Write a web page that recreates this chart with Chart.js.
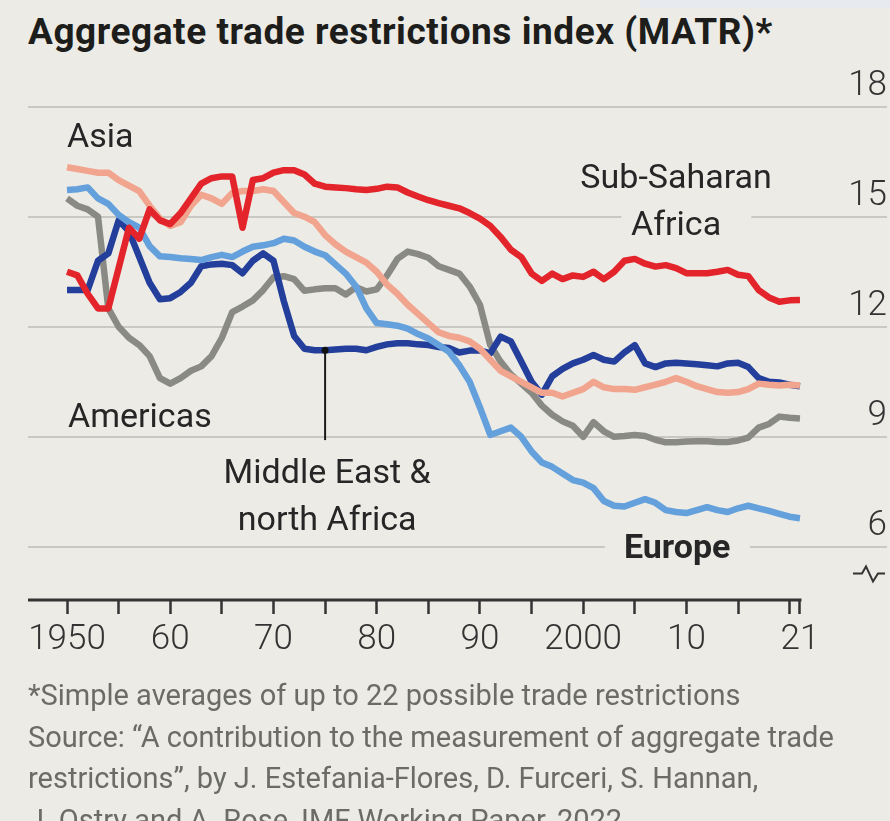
<!DOCTYPE html>
<html>
<head>
<meta charset="utf-8">
<script src="https://cdn.jsdelivr.net/npm/chart.js@4.4.1/dist/chart.umd.min.js"></script>
<style>
  html, body { margin: 0; padding: 0; }
  body { width: 890px; height: 821px; overflow: hidden; background: #ecebe5; position: relative; font-family: Roboto, sans-serif; }
  #strip { position: absolute; left: 640px; top: 0; width: 250px; height: 8px; background: #e7ebef; }
  h1 { position: absolute; left: 28px; top: 13px; margin: 0; font: 700 37px/37px Roboto, sans-serif; color: #1d1d1b; letter-spacing: 0.55px; white-space: nowrap; }
  #wrap { position: absolute; left: 0; top: 50px; width: 890px; height: 630px; }
  .notes { position: absolute; left: 28px; top: 675px; font: 400 29px Roboto, sans-serif; line-height: 41.5px; color: #6b6b68; letter-spacing: 0; white-space: nowrap; }
</style>
</head>
<body>
<div id="strip"></div>
<h1>Aggregate trade restrictions index (MATR)*</h1>
<div id="wrap"><canvas id="matr" width="890" height="630"></canvas></div>
<div class="notes">
  *Simple averages of up to 22 possible trade restrictions<br>
  Source: “A contribution to the measurement of aggregate trade<br>
  restrictions”, by J. Estefania-Flores, D. Furceri, S. Hannan,<br>
  J. Ostry and A. Rose, IMF Working Paper, 2022
</div>
<script>
// years on the x axis
const years = [
  1950, 1951, 1952, 1953, 1954, 1955, 1956, 1957, 1958, 1959,
  1960, 1961, 1962, 1963, 1964, 1965, 1966, 1967, 1968, 1969,
  1970, 1971, 1972, 1973, 1974, 1975, 1976, 1977, 1978, 1979,
  1980, 1981, 1982, 1983, 1984, 1985, 1986, 1987, 1988, 1989,
  1990, 1991, 1992, 1993, 1994, 1995, 1996, 1997, 1998, 1999,
  2000, 2001, 2002, 2003, 2004, 2005, 2006, 2007, 2008, 2009,
  2010, 2011, 2012, 2013, 2014, 2015, 2016, 2017, 2018, 2019,
  2020, 2021
];

const subSaharanAfrica = [
  13.5, 13.4, 12.9, 12.5, 12.5, 13.6, 14.7, 14.4, 15.2, 14.9,
  14.8, 15.1, 15.5, 15.9, 16.05, 16.1, 16.1, 14.7, 16.0, 16.05,
  16.2, 16.27, 16.27, 16.15, 15.9, 15.82, 15.8, 15.78, 15.75, 15.73,
  15.76, 15.82, 15.8, 15.66, 15.55, 15.45, 15.37, 15.3, 15.23, 15.1,
  14.95, 14.75, 14.45, 14.1, 13.9, 13.45, 13.25, 13.45, 13.3, 13.4,
  13.36, 13.5, 13.3, 13.5, 13.8, 13.85, 13.72, 13.64, 13.68, 13.6,
  13.46, 13.46, 13.46, 13.5, 13.55, 13.42, 13.38, 13.0, 12.8, 12.68,
  12.72, 12.73
];

const asia = [
  16.35, 16.3, 16.25, 16.2, 16.2, 16.0, 15.85, 15.7, 15.3, 14.95,
  14.75, 14.85, 15.3, 15.6, 15.5, 15.35, 15.65, 15.7, 15.7, 15.75,
  15.7, 15.4, 15.1, 15.0, 14.85, 14.5, 14.25, 14.05, 13.9, 13.75,
  13.5, 13.15, 12.9, 12.6, 12.35, 12.1, 11.85, 11.75, 11.7, 11.6,
  11.4, 11.1, 10.8, 10.65, 10.5, 10.35, 10.2, 10.2, 10.1, 10.2,
  10.3, 10.5, 10.35, 10.3, 10.3, 10.28, 10.35, 10.42, 10.5, 10.6,
  10.5, 10.38, 10.3, 10.22, 10.2, 10.22, 10.3, 10.45, 10.42, 10.4,
  10.42, 10.4
];

const europe = [
  15.73, 15.75, 15.8, 15.5, 15.35, 15.05, 14.85, 14.7, 14.2, 13.92,
  13.9, 13.87, 13.85, 13.82, 13.9, 13.96, 13.9, 14.05, 14.18, 14.22,
  14.28, 14.4, 14.35, 14.18, 14.05, 13.95, 13.7, 13.45, 13.1, 12.5,
  12.1, 12.07, 12.03, 11.95, 11.8, 11.68, 11.5, 11.32, 10.95, 10.5,
  9.8, 9.05, 9.15, 9.25, 9.0, 8.6, 8.3, 8.18, 8.0, 7.82,
  7.75, 7.6, 7.25, 7.12, 7.1, 7.2, 7.3, 7.2, 7.0, 6.95,
  6.92, 7.0, 7.08, 7.0, 6.95, 7.05, 7.12, 7.05, 6.98, 6.9,
  6.82, 6.78
];

const middleEastNorthAfrica = [
  13.0, 13.0, 13.0, 13.8, 14.0, 14.9, 14.6, 13.9, 13.2, 12.75,
  12.78, 12.95, 13.2, 13.65, 13.7, 13.72, 13.68, 13.46, 13.8, 14.0,
  13.8, 12.7, 11.75, 11.4, 11.36, 11.36, 11.38, 11.4, 11.4, 11.36,
  11.45, 11.52, 11.55, 11.55, 11.52, 11.5, 11.45, 11.42, 11.3, 11.35,
  11.35, 11.28, 11.73, 11.6, 11.05, 10.5, 10.15, 10.65, 10.85, 11.0,
  11.1, 11.23, 11.1, 11.05, 11.3, 11.5, 11.0, 10.9, 11.0, 11.02,
  11.0, 10.98, 10.95, 10.92, 11.0, 11.02, 10.9, 10.6, 10.5, 10.48,
  10.42, 10.38
];

const americas = [
  15.5, 15.3, 15.2, 15.0, 12.5, 12.0, 11.7, 11.5, 11.2, 10.6,
  10.45, 10.6, 10.8, 10.92, 11.2, 11.7, 12.4, 12.55, 12.72, 13.0,
  13.35, 13.38, 13.3, 12.98, 13.02, 13.05, 13.05, 12.88, 13.08, 12.96,
  13.02, 13.4, 13.85, 14.05, 13.98, 13.88, 13.65, 13.55, 13.45, 13.1,
  12.6, 11.5, 11.05, 10.7, 10.45, 10.2, 9.85, 9.6, 9.42, 9.3,
  9.0, 9.4, 9.15, 9.0, 9.02, 9.05, 9.02, 8.92, 8.85, 8.85,
  8.87, 8.88, 8.88, 8.86, 8.86, 8.9, 8.98, 9.25, 9.35, 9.55,
  9.52, 9.5
];

const xTickYears = [1950, 1955, 1960, 1965, 1970, 1975, 1980, 1985, 1990, 1995, 2000, 2005, 2010, 2015, 2020, 2021];
const xTickText  = ['1950', '', '60', '', '70', '', '80', '', '90', '', '2000', '', '10', '', '', '21'];
const yTicks = [6, 9, 12, 15, 18];

const BG = '#ecebe5';
const INK = '#262626';

function pts(vals) {
  return years.map((yr, i) => ({ x: yr, y: vals[i] }));
}

function series(label, vals, color) {
  return {
    label, data: pts(vals), borderColor: color, borderWidth: 6.5,
    pointRadius: 0, tension: 0, borderJoinStyle: 'round', borderCapStyle: 'butt'
  };
}

// text labels placed in data units
const labels = [
  { text: 'Asia', x: 1950.0, y: 16.9, align: 'left' },
  { text: 'Americas', x: 1950.1, y: 9.27, align: 'left' },
  { text: 'Sub-Saharan', x: 2009.0, y: 15.78, align: 'center' },
  { text: 'Africa', x: 2009.0, y: 14.5, align: 'center' },
  { text: 'Middle East &', x: 1975.2, y: 7.74, align: 'center' },
  { text: 'north Africa', x: 1975.2, y: 6.46, align: 'center' },
  { text: 'Europe', x: 2009.1, y: 5.69, align: 'center', bold: true }
];

const decorations = {
  id: 'decorations',
  beforeDatasetsDraw(chart) {
    const { ctx, scales: { x, y } } = chart;
    ctx.save();
    ctx.fillStyle = BG;
    // gaps in the gridlines behind two labels
    ctx.fillRect(x.getPixelForValue(2003.7), y.getPixelForValue(15) - 3, 130, 6);
    ctx.fillRect(x.getPixelForValue(2002.1), y.getPixelForValue(6) - 3, 145, 6);
    ctx.restore();
  },
  afterDraw(chart) {
    const { ctx, chartArea, scales: { x, y } } = chart;
    ctx.save();

    // x baseline stops at the last year
    ctx.strokeStyle = '#333';
    ctx.lineWidth = 3;
    ctx.beginPath();
    ctx.moveTo(chartArea.left, chartArea.bottom);
    ctx.lineTo(x.getPixelForValue(2021) + 1.5, chartArea.bottom);
    ctx.stroke();

    // y values sit above their gridlines at the right
    ctx.fillStyle = '#333';
    ctx.font = '300 35px Roboto';
    ctx.textAlign = 'right';
    ctx.textBaseline = 'alphabetic';
    yTicks.forEach(v => ctx.fillText(String(v), chartArea.right, y.getPixelForValue(v) - 11.5));

    // broken axis mark
    const by = y.getPixelForValue(5.275);
    const r = chartArea.right;
    ctx.lineWidth = 2;
    ctx.lineJoin = 'miter';
    ctx.beginPath();
    ctx.moveTo(r - 34, by);
    ctx.lineTo(r - 25, by);
    ctx.lineTo(r - 21, by - 7);
    ctx.lineTo(r - 14, by + 8);
    ctx.lineTo(r - 9, by);
    ctx.lineTo(r - 2, by);
    ctx.stroke();

    // pointer to the Middle East line
    const px = x.getPixelForValue(1975);
    const py = y.getPixelForValue(middleEastNorthAfrica[years.indexOf(1975)]);
    ctx.strokeStyle = '#1a1a1a';
    ctx.lineWidth = 2;
    ctx.beginPath();
    ctx.moveTo(px, py);
    ctx.lineTo(px, y.getPixelForValue(8.91));
    ctx.stroke();
    ctx.fillStyle = '#111';
    ctx.beginPath();
    ctx.arc(px, py, 3.5, 0, Math.PI * 2);
    ctx.fill();

    // series labels
    ctx.fillStyle = INK;
    labels.forEach(l => {
      ctx.font = (l.bold ? '700 ' : '400 ') + '34px Roboto';
      ctx.textAlign = l.align;
      ctx.fillText(l.text, x.getPixelForValue(l.x), y.getPixelForValue(l.y));
    });
    ctx.restore();
  }
};

new Chart(document.getElementById('matr'), {
  type: 'line',
  data: {
    datasets: [
      series('Sub-Saharan Africa', subSaharanAfrica, '#e3242b'),
      series('Asia', asia, '#f2a58e'),
      series('Europe', europe, '#64a0dc'),
      series('Middle East & north Africa', middleEastNorthAfrica, '#233f9b'),
      series('Americas', americas, '#8a8a85')
    ]
  },
  options: {
    responsive: false,
    animation: false,
    devicePixelRatio: 1,
    layout: { padding: { left: 28, right: 3, top: 56.7, bottom: 20 } },
    plugins: { legend: { display: false }, tooltip: { enabled: false } },
    scales: {
      x: {
        type: 'linear',
        min: 1946.22,
        max: 2029.43,
        afterBuildTicks: s => { s.ticks = xTickYears.map(v => ({ value: v })); },
        afterFit: s => { s.height = 60; },
        grid: { drawOnChartArea: false, drawTicks: true, tickLength: 14, tickWidth: 2.5, tickColor: '#333' },
        border: { display: false },
        ticks: {
          autoSkip: false, maxRotation: 0, padding: 5, color: '#333',
          font: { family: 'Roboto', size: 35, weight: '300' },
          callback: (v, i) => xTickText[i]
        }
      },
      y: {
        position: 'right',
        min: 4.55,
        max: 18,
        afterBuildTicks: s => { s.ticks = yTicks.map(v => ({ value: v })); },
        afterFit: s => { s.width = 0; },
        grid: { color: '#c9c8c2', lineWidth: 2, drawTicks: false },
        border: { display: false },
        ticks: { display: false }
      }
    }
  },
  plugins: [decorations]
});
</script>
</body>
</html>
